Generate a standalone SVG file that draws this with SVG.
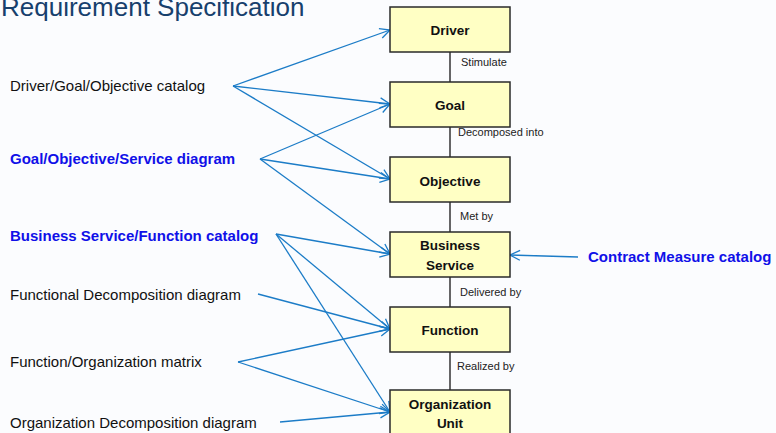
<svg xmlns="http://www.w3.org/2000/svg" width="776" height="433" viewBox="0 0 776 433">
<defs>
<marker id="ah" markerWidth="12" markerHeight="12" refX="11" refY="6" orient="auto" markerUnits="userSpaceOnUse">
<path d="M1,1 L11,6 L1,11" fill="none" stroke="#1C7CC7" stroke-width="1.3"/>
</marker>
<style>
.bg{fill:#FBFCFE}
.title{font-family:"Liberation Sans",Arial,sans-serif;font-size:26px;fill:#17406D}
.box{fill:#FFFFC4;stroke:#2a2a2a;stroke-width:1.5}
.nt{font-family:"Liberation Sans",Arial,sans-serif;font-size:13.5px;font-weight:bold;fill:#111;text-anchor:middle}
.el{font-family:"Liberation Sans",Arial,sans-serif;font-size:11px;fill:#222}
.lab{font-family:"Liberation Sans",Arial,sans-serif;font-size:15px;fill:#111}
.lb{font-family:"Liberation Sans",Arial,sans-serif;font-size:15px;font-weight:bold;fill:#1010E8}
.vl{stroke:#333;stroke-width:1.5;fill:none}
.ar{stroke:#1C7CC7;stroke-width:1.3;fill:none;marker-end:url(#ah)}
</style>
</defs>
<rect class="bg" x="0" y="0" width="776" height="433"/>
<text class="title" x="1" y="16">Requirement Specification</text>

<g id="connectors">
<line class="vl" x1="450" y1="52" x2="450" y2="82"/>
<line class="vl" x1="450" y1="127" x2="450" y2="157"/>
<line class="vl" x1="450" y1="202" x2="450" y2="232"/>
<line class="vl" x1="450" y1="277" x2="450" y2="307"/>
<line class="vl" x1="450" y1="352" x2="450" y2="390"/>
<text class="el" x="461" y="66">Stimulate</text>
<text class="el" x="458" y="136">Decomposed into</text>
<text class="el" x="460" y="220">Met by</text>
<text class="el" x="460" y="296">Delivered by</text>
<text class="el" x="457" y="370">Realized by</text>

<line class="ar" x1="233" y1="86" x2="390" y2="30"/>
<line class="ar" x1="233" y1="86" x2="390" y2="104"/>
<line class="ar" x1="233" y1="86" x2="390" y2="179"/>
<line class="ar" x1="260" y1="159" x2="390" y2="104"/>
<line class="ar" x1="260" y1="159" x2="390" y2="179"/>
<line class="ar" x1="260" y1="159" x2="390" y2="254"/>
<line class="ar" x1="276" y1="234" x2="390" y2="254"/>
<line class="ar" x1="276" y1="234" x2="390" y2="329"/>
<line class="ar" x1="276" y1="234" x2="390" y2="412"/>
<line class="ar" x1="258" y1="294" x2="390" y2="329"/>
<line class="ar" x1="238" y1="362" x2="390" y2="329"/>
<line class="ar" x1="238" y1="362" x2="390" y2="412"/>
<line class="ar" x1="280" y1="422" x2="390" y2="412"/>
<line class="ar" x1="578" y1="257" x2="510" y2="255"/>
</g>

<g id="driver"><rect class="box" x="390" y="7" width="120" height="45"/><text class="nt" x="450" y="35">Driver</text></g>
<g id="goal"><rect class="box" x="390" y="82" width="120" height="45"/><text class="nt" x="450" y="110">Goal</text></g>
<g id="objective"><rect class="box" x="390" y="157" width="120" height="45"/><text class="nt" x="450" y="186">Objective</text></g>
<g id="business-service"><rect class="box" x="390" y="232" width="120" height="45"/><text class="nt" x="450" y="250">Business</text><text class="nt" x="450" y="270">Service</text></g>
<g id="function"><rect class="box" x="390" y="307" width="120" height="45"/><text class="nt" x="450" y="335">Function</text></g>
<g id="organization-unit"><rect class="box" x="390" y="390" width="120" height="46"/><text class="nt" x="450" y="409">Organization</text><text class="nt" x="450" y="428">Unit</text></g>

<g id="driver-goal-objective-catalog"><text class="lab" x="10" y="91">Driver/Goal/Objective catalog</text></g>
<g id="goal-objective-service-diagram"><text class="lb" x="10" y="164">Goal/Objective/Service diagram</text></g>
<g id="business-service-function-catalog"><text class="lb" x="10" y="241">Business Service/Function catalog</text></g>
<g id="functional-decomposition-diagram"><text class="lab" x="10" y="300">Functional Decomposition diagram</text></g>
<g id="function-organization-matrix"><text class="lab" x="10" y="367">Function/Organization matrix</text></g>
<g id="organization-decomposition-diagram"><text class="lab" x="10" y="428">Organization Decomposition diagram</text></g>
<g id="contract-measure-catalog"><text class="lb" x="588" y="262">Contract Measure catalog</text></g>
</svg>
